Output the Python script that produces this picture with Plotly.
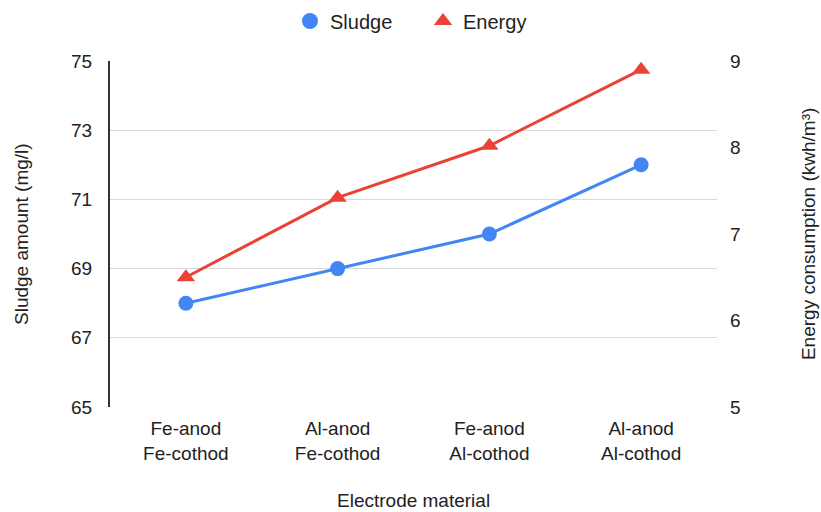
import plotly.graph_objects as go

categories = ["Fe-anod<br>Fe-cothod", "Al-anod<br>Fe-cothod", "Fe-anod<br>Al-cothod", "Al-anod<br>Al-cothod"]
sludge = [68, 69, 70, 72]
energy = [6.5, 7.42, 8.02, 8.9]

left_ticks = [65, 67, 69, 71, 73, 75]
right_ticks = [5, 6, 7, 8, 9]

BLUE = "#4285F4"
RED = "#EA4335"
FONT = "Arial, 'Liberation Sans', sans-serif"
TXT = "#222222"
FS = 19

fig = go.Figure()
fig.add_trace(go.Scatter(
    x=categories, y=sludge, name="Sludge", mode="lines+markers", showlegend=False,
    line=dict(color=BLUE, width=3),
    marker=dict(symbol="circle", size=15, color=BLUE),
))
fig.add_trace(go.Scatter(
    x=categories, y=energy, name="Energy", mode="lines+markers", yaxis="y2", showlegend=False,
    line=dict(color=RED, width=3),
    marker=dict(symbol="triangle-up", size=16, color=RED),
))
# legend-only entries (markers without line)
fig.add_trace(go.Scatter(x=[None], y=[None], name="Sludge", mode="markers", legend="legend",
                         marker=dict(symbol="circle", size=20, color=BLUE)))
fig.add_trace(go.Scatter(x=[None], y=[None], name="Energy", mode="markers", legend="legend2",
                         marker=dict(symbol="triangle-up", size=17, color=RED)))

leg_common = dict(orientation="h", xanchor="left", y=0.959, yanchor="middle",
                  yref="container", font=dict(size=20, color=TXT),
                  itemsizing="trace", bgcolor="rgba(0,0,0,0)")

fig.update_layout(
    width=821, height=512,
    margin=dict(l=110, r=104, t=61, b=105, autoexpand=False),
    paper_bgcolor="white", plot_bgcolor="white",
    font=dict(family=FONT, size=FS, color=TXT),
    showlegend=True,
    legend=dict(x=0.2965, **leg_common),
    legend2=dict(x=0.5157, **leg_common),
    xaxis=dict(
        type="category", range=[-0.5, 3.5], automargin=False,
        showgrid=False, showline=False, zeroline=False,
        ticks="", tickfont=dict(size=FS, color=TXT),
        ticklabelstandoff=8,
    ),
    yaxis=dict(
        range=[65, 75], tickvals=left_ticks, automargin=False,
        showgrid=True, gridcolor="#d9d9d9", gridwidth=1,
        showline=True, linecolor="#333333", linewidth=2,
        zeroline=False, ticks="", tickfont=dict(size=FS, color=TXT),
        ticklabelstandoff=12,
    ),
    yaxis2=dict(
        range=[5, 9], tickvals=right_ticks, overlaying="y", side="right", automargin=False,
        showgrid=False, showline=False, zeroline=False, ticks="",
        tickfont=dict(size=FS, color=TXT),
        ticklabelstandoff=12,
    ),
    annotations=[
        dict(text="Electrode material", xref="paper", yref="paper", x=0.5, y=-0.269,
             showarrow=False, font=dict(size=FS, color=TXT), xanchor="center", yanchor="middle"),
        dict(text="Sludge amount (mg/l)", xref="paper", yref="paper", x=-0.1466, y=0.5,
             showarrow=False, textangle=-90, font=dict(size=FS, color=TXT), xanchor="center", yanchor="middle"),
        dict(text="Energy consumption (kwh/m³)", xref="paper", yref="paper", x=1.150, y=0.5,
             showarrow=False, textangle=-90, font=dict(size=FS, color=TXT), xanchor="center", yanchor="middle"),
    ],
)

fig.write_html("out.html", config={"displayModeBar": False},
               post_script="document.body.style.margin='0';")
